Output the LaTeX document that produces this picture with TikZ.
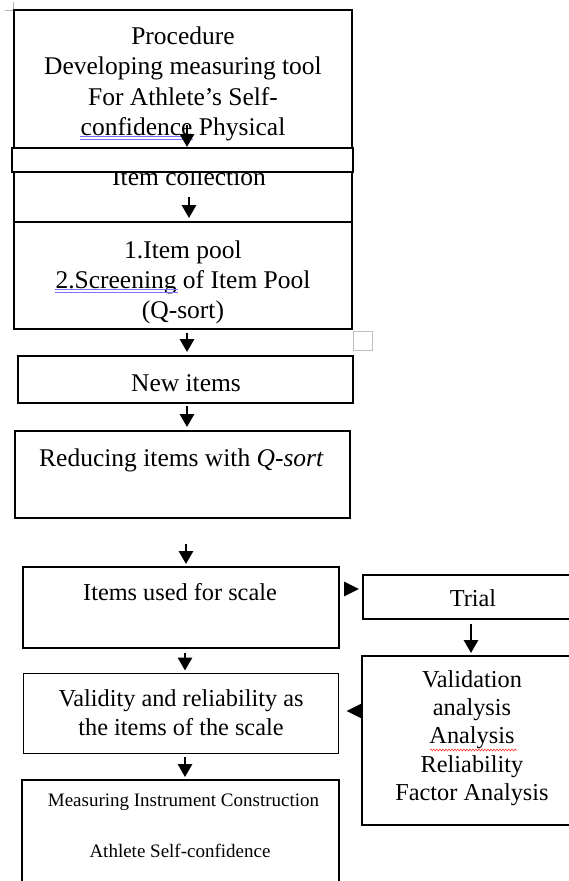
\documentclass[tikz,border=0pt]{standalone}
\usepackage{fontspec}
\setmainfont{Liberation Serif}
\usetikzlibrary{arrows.meta,decorations.pathmorphing}
\newcommand\fa{\fontsize{25.5}{30.5}\selectfont}
\newcommand\fb{\fontsize{24.3}{28.6}\selectfont}
\newcommand\fc{\fontsize{19}{23}\selectfont}
\tikzset{
  box/.style={draw, line width=1.9pt, inner sep=0pt},
  txt/.style={inner sep=0pt, anchor=base},
  arr/.style={line width=2.8pt, -{Triangle[width=14pt,length=13pt]}},
  sidehead/.style={line width=2.8pt, -{Triangle[width=14pt,length=15pt]}},
  greymark/.style={draw=black!30, line width=0.8pt}
}
\begin{document}
\begin{tikzpicture}[x=1pt,y=-1pt]
\fill[white] (0,0) rectangle (569,881);
\useasboundingbox (0,0) rectangle (569,881);
\clip (0,0) rectangle (569,881);
% artifacts
\draw[greymark] (5,10) -- (13,10) -- (13,2);
\node[draw=black!25, line width=1pt, minimum width=19pt, minimum height=19pt, inner sep=0pt] (sq) at (363,341) {};
% top box
\node[box, minimum width=338pt, minimum height=212pt] (top) at (183,116) {};
\node[txt] (t1) at (183,44) {\fa Procedure};
\node[txt] (t2) at (183,74.5) {\fa Developing measuring tool};
\node[txt] (t3) at (183,105) {\fa For Athlete’s Self-};
\node[txt] (t4) at (183,135.5) {\fa confidence Physical};
\node[txt] (t6) at (189,185) {\fa Item collection};
\draw[blue!55, line width=0.7pt] (80,136.5) -- (193,136.5) (80,139.5) -- (193,139.5);
\node[box, fill=white, minimum width=341pt, minimum height=24pt] (bar) at (182.5,160) {};
% boxes
\node[box, minimum width=338pt, minimum height=107pt] (pool) at (183,275.5) {};
\node[box, minimum width=335pt, minimum height=47pt] (newi) at (185.5,379.5) {};
\node[box, minimum width=335pt, minimum height=87pt] (red) at (182.5,474.5) {};
\node[box, minimum width=316pt, minimum height=81pt] (used) at (181,607.5) {};
\node[box, minimum width=218pt, minimum height=44pt] (trial) at (472,597) {};
\node[box, minimum width=315pt, minimum height=80pt] (valid) at (181,713.5) {};
\node[box, minimum width=219pt, minimum height=169pt] (vbox) at (471.5,740.5) {};
\node[box, minimum width=317pt, minimum height=120pt] (meas) at (180.5,840) {};
% texts
\node[txt] (p1) at (183,258) {\fa 1.Item pool};
\node[txt] (p2) at (183,288) {\fa 2.Screening of Item Pool};
\node[txt] (p3) at (183,318) {\fa (Q-sort)};
\draw[blue!55, line width=0.7pt] (55,289.5) -- (178,289.5) (55,292) -- (178,292);
\node[txt] (n1) at (186,391) {\fa New items};
\node[txt] (r1) at (181.5,466) {\fa Reducing items with \textit{Q-sort}};
\node[txt] (u1) at (180,600) {\fb Items used for scale};
\node[txt] (tr1) at (473,606.5) {\fb Trial};
\node[txt] (v1) at (181,706.5) {\fb Validity and reliability as};
\node[txt] (v2) at (181,735.5) {\fb the items of the scale};
\node[txt] (w1) at (472,687) {\fb Validation};
\node[txt] (w2) at (472,715) {\fb analysis};
\node[txt] (w3) at (472,743.5) {\fb Analysis};
\node[txt] (w4) at (472,772) {\fb Reliability};
\node[txt] (w5) at (472,800.5) {\fb Factor Analysis};
\draw[red!80, line width=0.6pt, decorate, decoration={snake, amplitude=0.9pt, segment length=3pt}] (430,750) -- (517,750);
\node[txt] (m1) at (183.5,806) {\fc Measuring Instrument Construction};
\node[txt] (m2) at (180,857) {\fc Athlete Self-confidence};
% arrows
\coordinate (a1s) at (187,125);
\draw[arr] (a1s) -- (a1s |- bar.north);
\coordinate (a2s) at (189,197);
\draw[arr, shorten >=3pt] (a2s) -- (a2s |- pool.north);
\coordinate (x187) at (187,0);
\draw[arr, shorten <=3pt, shorten >=3pt] (x187 |- pool.south) -- (x187 |- newi.north);
\draw[arr, shorten <=2pt, shorten >=3pt] (x187 |- newi.south) -- (x187 |- red.north);
\coordinate (a5s) at (186,544);
\draw[arr, shorten >=2pt] (a5s) -- (a5s |- used.north);
\coordinate (x185) at (185,0);
\draw[arr, shorten <=4pt, shorten >=2pt] (x185 |- used.south) -- (x185 |- valid.north);
\draw[arr, shorten <=3pt, shorten >=2pt] (x185 |- valid.south) -- (x185 |- meas.north);
\coordinate (x471) at (471,0);
\draw[arr, shorten <=4pt, shorten >=2pt] (x471 |- trial.south) -- (x471 |- vbox.north);
\coordinate (h1s) at (345,589);
\draw[sidehead, shorten >=3pt] (h1s) -- (h1s -| trial.west);
\coordinate (h2s) at (361,711);
\draw[sidehead, shorten >=7pt] (h2s) -- (h2s -| valid.east);
\end{tikzpicture}
\end{document}
